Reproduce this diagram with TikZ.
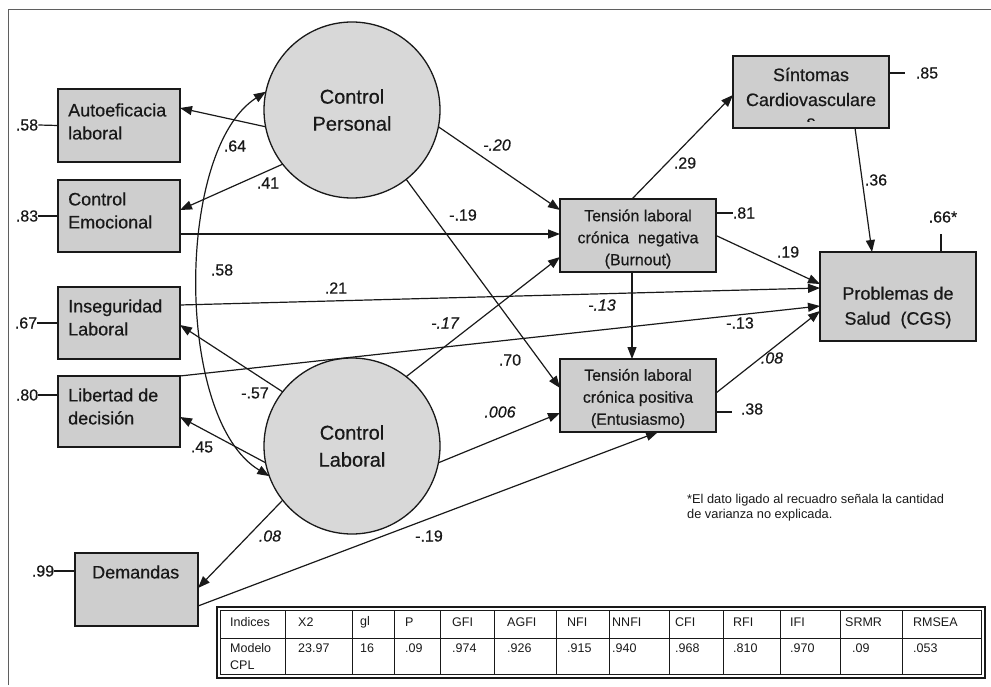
\documentclass[tikz,border=0pt]{standalone}
\usepackage{fontspec}
\setmainfont{Liberation Sans}
\newfontfamily\heavyfont[FakeBold=0.5]{Liberation Sans}
\usetikzlibrary{arrows.meta,calc}

\definecolor{boxgray}{RGB}{206,206,206}
\definecolor{circgray}{RGB}{216,216,216}
\definecolor{ink}{RGB}{25,25,25}
\definecolor{framegray}{RGB}{95,95,95}

\tikzset{
  obs/.style={rectangle, draw=ink, line width=1.7pt, fill=boxgray, inner sep=0pt, outer sep=0pt},
  lat/.style={circle, draw=ink, line width=1.3pt, fill=circgray, minimum size=176pt,
              inner sep=0pt, outer sep=0pt, align=center, text=ink,
              font=\heavyfont\fontsize{20}{27}\selectfont},
  lbltxt/.style={inner sep=0pt, text=ink, align=left, font=\heavyfont\fontsize{18}{23}\selectfont},
  midtxt/.style={inner sep=0pt, text=ink, align=center, font=\heavyfont\fontsize{16}{22}\selectfont},
  bigtxt/.style={inner sep=0pt, text=ink, align=center, font=\heavyfont\fontsize{18}{25}\selectfont},
  conn/.style={draw=ink, line width=1.2pt, -{Triangle[length=12pt,width=9pt]}},
  errline/.style={draw=ink, line width=1.2pt},
  coef/.style={inner sep=0pt, text=ink, font=\heavyfont\fontsize{16}{18}\selectfont},
  coefit/.style={inner sep=0pt, text=ink, font=\heavyfont\fontsize{16}{18}\selectfont\itshape},
  tab/.style={inner sep=0pt, text=ink, anchor=west, align=left, font=\fontsize{12.5}{17}\selectfont},
}

\begin{document}
\begin{tikzpicture}[x=1pt,y=-1pt]
\useasboundingbox (0,0) rectangle (991,687);

% page frame (top and left rules)
\draw[framegray, line width=1pt] (8,685) -- (8,10) -- (991,10);

% latent factors
\node[lat] (cp) at (352,110) {Control\\Personal};
\node[lat] (cl) at (352,446) {Control\\Laboral};

% observed indicators on the left
\node[obs, minimum width=122pt, minimum height=73pt] (auto) at (119,125.5) {};
\node[lbltxt, anchor=west] (autot) at (68,121.5) {Autoeficacia\\laboral};
\node[obs, minimum width=122pt, minimum height=72pt] (emo) at (119,216) {};
\node[lbltxt, anchor=west] (emot) at (68,210.5) {Control\\Emocional};
\node[obs, minimum width=122pt, minimum height=72pt] (inseg) at (119,323) {};
\node[lbltxt, anchor=west] (insegt) at (68,317.5) {Inseguridad\\Laboral};
\node[obs, minimum width=122pt, minimum height=71pt] (lib) at (119,411.5) {};
\node[lbltxt, anchor=west] (libt) at (68,406.5) {Libertad de\\decisión};
\node[obs, minimum width=123pt, minimum height=73pt] (dem) at (136.5,589.5) {};
\node[lbltxt, anchor=west] (demt) at (92,572) {Demandas};

% outcome boxes
\node[obs, minimum width=156pt, minimum height=73pt] (neg) at (638,235.5) {};
\node[midtxt] (negt) at (638,239) {Tensión laboral\\crónica\ \ negativa\\(Burnout)};
\node[obs, minimum width=156pt, minimum height=73pt] (pos) at (638,395.5) {};
\node[midtxt] (post) at (638,398.5) {Tensión laboral\\crónica positiva\\(Entusiasmo)};
\node[obs, minimum width=156pt, minimum height=72pt] (sint) at (811,92) {};
\node[bigtxt] (sintt) at (811,87) {Síntomas\\Cardiovasculare};
\begin{scope}
  \clip (733,56) rectangle (889,121.5);
  \node[bigtxt, anchor=base] (sints) at (811,128) {s};
\end{scope}
\node[obs, minimum width=156pt, minimum height=89pt] (prob) at (898,296.5) {};
\node[bigtxt] (probt) at (898,307.5) {Problemas de\\Salud\ \ (CGS)};

% residual terms
\node[coef] (e58) at (27,125) {.58};
\draw[errline] (e58.east) -- (auto.west);
\node[coef] (e83) at (27,216) {.83};
\draw[errline] (e83.east) -- (emo.west);
\node[coef] (e67) at (26,323) {.67};
\draw[errline] (e67.east) -- (inseg.west);
\node[coef] (e80) at (27,395) {.80};
\draw[errline] (e80.east) -- ($(lib.west)+(0,-16.5)$);
\node[coef] (e99) at (43,571) {.99};
\draw[errline] (e99.east) -- ($(dem.west)+(0,-18.5)$);
\node[coef, inner xsep=11pt] (e85) at (927,73) {.85};
\draw[errline] ($(sint.east)+(0,-19)$) -- (e85.west);
\node[coef] (e81) at (744,213) {.81};
\draw[errline] ($(neg.east)+(0,-22.5)$) -- (e81.west);
\node[coef, inner xsep=9pt] (e38) at (752,409) {.38};
\draw[errline] ($(pos.east)+(0,16.5)$) -- ($(e38.west)+(0,3)$);
\node[coef] (e66) at (943,217) {.66*};
\coordinate (e66end) at (941,234);
\draw[errline] ($(prob.north)+(43,0)$) -- (e66end);

% loadings of the latent factors
\draw[conn] (cp.191) -- ($(auto.east)+(0,-17.5)$);
\draw[conn] (cp.218) -- ($(emo.east)+(0,-6)$);
\draw[conn] (cl.142) -- ($(inseg.east)+(0,2)$);
\draw[conn] (cl.191) -- ($(lib.east)+(0,5.5)$);
\draw[conn] (cl.218) -- ($(dem.east)+(0,-1.5)$);

% structural paths
\draw[conn] ($(emo.east)+(0,18)$) -- ($(neg.west)+(0,-1.5)$);
\draw[conn] (cp.349) -- ($(neg.west)+(0,-25.5)$);
\draw[conn] (cp.308) -- ($(pos.west)+(0,-7.5)$);
\draw[conn] (cl.52) -- ($(neg.west)+(0,21.5)$);
\draw[conn] (cl.349) -- ($(pos.west)+(0,17.5)$);
\draw[conn] ($(dem.east)+(0,16.5)$) -- ($(pos.south)+(20,0)$);
\draw[conn] ($(inseg.east)+(0,-18)$) -- ($(prob.west)+(0,-8.5)$);
\draw[conn] (lib.north east) -- ($(prob.west)+(0,9.5)$);
\draw[conn] (neg.east) -- ($(prob.west)+(0,-12.5)$);
\draw[conn] ($(pos.east)+(0,-2.5)$) -- ($(prob.west)+(0,14.5)$);
\draw[conn] ($(neg.south)+(-6,0)$) -- ($(pos.north)+(-6,0)$);
\draw[conn] ($(neg.north)+(-6,0)$) -- ($(sint.west)+(0,3)$);
\draw[conn] ($(sint.south)+(44,0)$) -- ($(prob.north)+(-26,0)$);

% correlation between the latent factors
\draw[draw=ink, line width=1.2pt, {Triangle[length=12pt,width=9pt]}-{Triangle[length=12pt,width=9pt]}]
  (cp.168) .. controls (175,150) and (175,420) .. (cl.200);

% coefficients
\node[coef] (c64) at (235,146) {.64};
\node[coef] (c41) at (268,183) {.41};
\node[coefit] (c20) at (497,145) {-.20};
\node[coef] (c19a) at (463,215) {-.19};
\node[coef] (c58) at (222,270) {.58};
\node[coef] (c21) at (336,288) {.21};
\node[coefit] (c13a) at (602,305) {-.13};
\node[coef] (c13b) at (740,323) {-.13};
\node[coefit] (c17) at (445,323) {-.17};
\node[coef] (c70) at (510,360) {.70};
\node[coefit] (c006) at (500,412) {.006};
\node[coef] (c57) at (255,393) {-.57};
\node[coef] (c45) at (202,447) {.45};
\node[coefit] (c08a) at (270,536) {.08};
\node[coef] (c19b) at (429,536) {-.19};
\node[coef] (c29) at (685,163) {.29};
\node[coef] (c36) at (876,180) {.36};
\node[coef] (c19c) at (788,252) {.19};
\node[coefit] (c08b) at (772,358) {.08};

% footnote
\node[inner sep=0pt, text=ink, anchor=west, align=left, font=\fontsize{12.8}{15}\selectfont] (note)
  at (687,507.5) {*El dato ligado al recuadro señala la cantidad\\de varianza no explicada.};

% fit indices table
\draw[ink, line width=1.3pt] (217,607) rectangle (985,678);
\draw[ink, line width=0.7pt] (220.5,610.5) rectangle (981.5,674.5);
\draw[ink, line width=0.7pt] (220.5,638) -- (981.5,638);
\foreach \x in {285,352,394,440,494,556,609,669,723,780,840,902}
  \draw[ink, line width=0.7pt] (\x,610.5) -- (\x,674.5);
\node[tab] (hidx) at (230,622) {Indices};
\node[tab] (vidx) at (230,656.5) {Modelo\\CPL};
\foreach \x/\h/\v [count=\i] in {298/X2/23.97, 360/gl/16, 405/P/.09, 452/GFI/.974,
    507/AGFI/.926, 567/NFI/.915, 612/NNFI/.940, 675/CFI/.968, 733/RFI/.810,
    790/IFI/.970, 845/SRMR/{}, 913/RMSEA/.053} {
  \node[tab] (h\i) at (\x,622) {\h};
  \node[tab] (v\i) at (\x,648) {\v};
}
\node[tab] (vsrmr) at (852,648) {.09};
\end{tikzpicture}
\end{document}
